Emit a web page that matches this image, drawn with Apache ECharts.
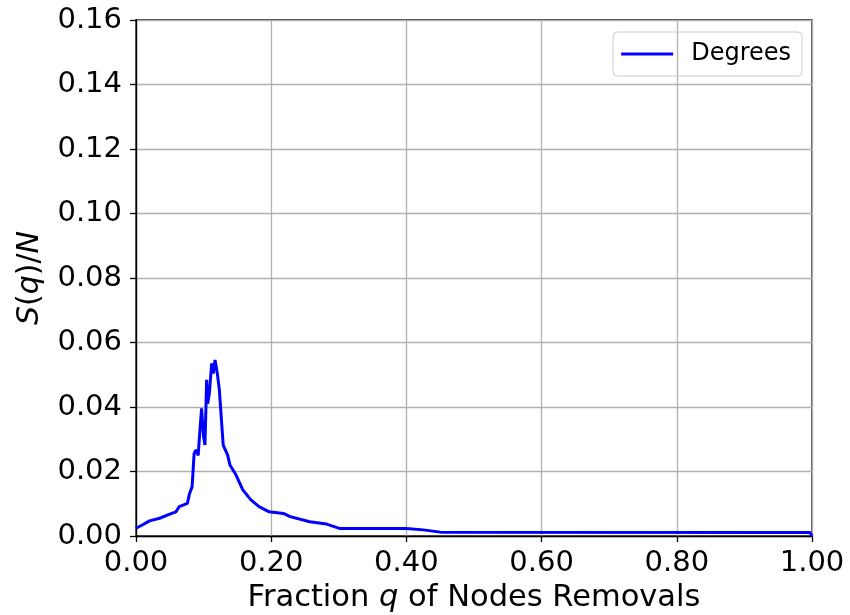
<!DOCTYPE html>
<html>
<head>
<meta charset="utf-8">
<script src="https://cdn.jsdelivr.net/npm/echarts@6/dist/echarts.min.js"></script>
<style>html,body{margin:0;padding:0;background:#fff}#c{width:850px;height:615px}</style>
</head>
<body>
<div id="c"></div>
<script>
var seriesName = 'Degrees';
var qVals = [0, 0.01, 0.02, 0.035, 0.049, 0.059, 0.064, 0.076, 0.079, 0.083, 0.086, 0.0888, 0.092, 0.0937, 0.097, 0.100, 0.102, 0.1035, 0.1045, 0.106, 0.1085, 0.112, 0.1144, 0.1169, 0.1183, 0.1203, 0.1233, 0.1257, 0.129, 0.1356, 0.139, 0.148, 0.158, 0.170, 0.182, 0.197, 0.218, 0.228, 0.257, 0.282, 0.302, 0.40, 0.425, 0.45, 0.997, 1.0];
var sVals = [0.0024, 0.0035, 0.0047, 0.0055, 0.0067, 0.0075, 0.0091, 0.0101, 0.013, 0.0153, 0.0256, 0.0267, 0.025, 0.0303, 0.0396, 0.0308, 0.0282, 0.040, 0.0484, 0.041, 0.0442, 0.0535, 0.0504, 0.0546, 0.0546, 0.0504, 0.0453, 0.038, 0.0282, 0.0251, 0.022, 0.0189, 0.0143, 0.0112, 0.0091, 0.0075, 0.0070, 0.006, 0.0044, 0.0037, 0.0023, 0.0023, 0.0019, 0.0012, 0.0011, 0.0];
var xTicks = ['0.00', '0.20', '0.40', '0.60', '0.80', '1.00'];
var yTicks = ['0.00', '0.02', '0.04', '0.06', '0.08', '0.10', '0.12', '0.14', '0.16'];

var data = qVals.map(function (q, i) { return [q, sVals[i]]; });
var font = 'DejaVu Sans';
var chart = echarts.init(document.getElementById('c'));
chart.setOption({
  animation: false,
  textStyle: { fontFamily: font },
  grid: { left: 136, right: 38, top: 20, bottom: 79, show: true, borderColor: '#000', borderWidth: 1.3, containLabel: false, outerBoundsMode: 'none' },
  legend: {
    data: [seriesName], right: 48, top: 32, orient: 'vertical',
    icon: 'rect', itemWidth: 52, itemHeight: 3, itemGap: 10,
    padding: [10, 11, 10, 8], borderColor: '#cccccc', borderWidth: 1, borderRadius: 4,
    textStyle: { fontSize: 24, color: '#000', fontFamily: font, padding: [0, 0, 0, 13] }
  },
  xAxis: {
    type: 'value', min: 0, max: 1, interval: 0.2,
    name: 'Fraction {i|q} of Nodes Removals', nameLocation: 'middle', nameGap: 44,
    nameTextStyle: { fontSize: 30.5, color: '#000', fontFamily: font, rich: { i: { fontSize: 30.5, fontStyle: 'italic', fontFamily: font, color: '#000' } } },
    axisLine: { show: true, lineStyle: { color: '#000', width: 1.3 } },
    axisTick: { show: true, inside: false, length: 6, lineStyle: { color: '#000', width: 1.3 } },
    axisLabel: { fontSize: 29, color: '#000', margin: 13, formatter: function (v) { return xTicks[Math.round(v / 0.2)]; } },
    splitLine: { show: true, lineStyle: { color: '#b0b0b0', width: 1.3 } }
  },
  yAxis: {
    type: 'value', min: 0, max: 0.16, interval: 0.02,
    name: '{i|S}({i|q})/{i|N}', nameLocation: 'middle', nameGap: 91, nameRotate: 90,
    nameTextStyle: { fontSize: 30, color: '#000', fontFamily: font, rich: { i: { fontSize: 30, fontStyle: 'italic', fontFamily: font, color: '#000' } } },
    axisLine: { show: true, lineStyle: { color: '#000', width: 1.3 } },
    axisTick: { show: true, inside: false, length: 6, lineStyle: { color: '#000', width: 1.3 } },
    axisLabel: { fontSize: 29, color: '#000', margin: 14, formatter: function (v) { return yTicks[Math.round(v / 0.02)]; } },
    splitLine: { show: true, lineStyle: { color: '#b0b0b0', width: 1.3 } }
  },
  series: [{
    name: seriesName, type: 'line', data: data, showSymbol: false, symbol: 'none',
    lineStyle: { color: '#0000ff', width: 3 }, itemStyle: { color: '#0000ff' }, clip: false
  }]
});
</script>
</body>
</html>
